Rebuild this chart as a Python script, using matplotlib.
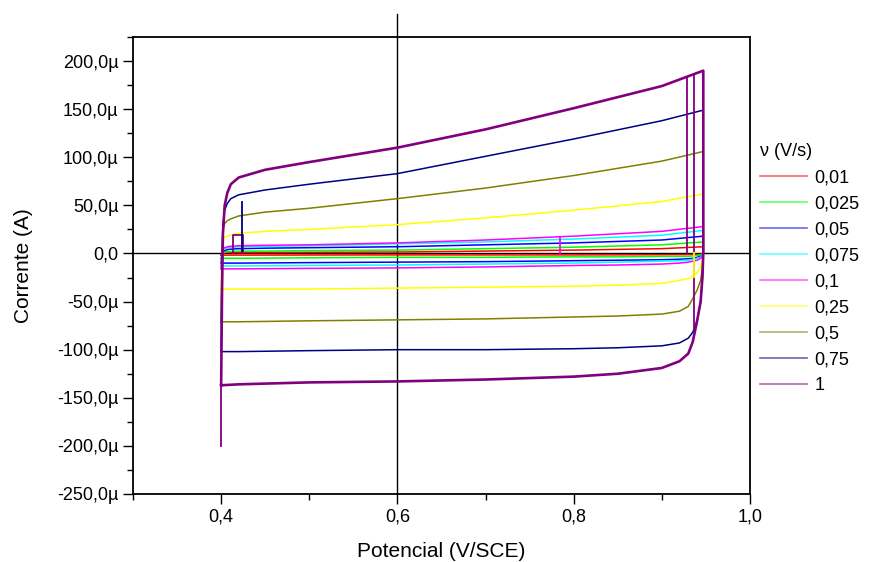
import matplotlib
matplotlib.use("Agg")
import matplotlib.pyplot as plt
from matplotlib.ticker import FuncFormatter, MultipleLocator
from matplotlib.lines import Line2D

plt.rcParams['font.family'] = ['Liberation Sans', 'DejaVu Sans']

# ---------------- data ----------------
rates = ["0,01", "0,025", "0,05", "0,075", "0,1", "0,25", "0,5", "0,75", "1"]
colors = ["#FF0000", "#00FF00", "#0000FF", "#00FFFF", "#FF00FF",
          "#FFFF00", "#808000", "#000080", "#800080"]

# potential grid for anodic (forward) and cathodic (reverse) branches, V
E_fwd = [0.400, 0.401, 0.402, 0.404, 0.407, 0.411, 0.420, 0.450, 0.500,
         0.600, 0.700, 0.800, 0.900, 0.947]
E_rev = [0.947, 0.946, 0.944, 0.940, 0.935, 0.930, 0.920, 0.900, 0.850,
         0.800, 0.700, 0.600, 0.500, 0.420, 0.400]

# currents in µA
I_fwd = {
    "0,01":  [-2, 0, 0.5, 0.5, 1, 1, 1, 1, 1.2, 1.5, 2.5, 3.5, 5, 7],
    "0,025": [-5, 0, 1, 1.5, 2, 2, 2.5, 2.5, 3, 3.5, 5, 6.5, 9, 12],
    "0,05":  [-10, 0, 2, 3, 4, 4.5, 5, 5.5, 6, 7, 9, 11, 14, 18],
    "0,075": [-13, 1, 4, 5, 6, 6.5, 7, 7.5, 8, 10, 12, 15, 19, 24],
    "0,1":   [-16, 2, 5, 6, 7, 7.5, 8, 8.5, 9, 11, 14, 18, 23, 28],
    "0,25":  [-37, 5, 14, 17, 18, 19, 21, 23, 25, 30, 37, 45, 54, 62],
    "0,5":   [-71, 0, 25, 31, 34, 36, 39, 43, 47, 57, 68, 81, 96, 106],
    "0,75":  [-102, -10, 30, 45, 52, 57, 61, 66, 72, 83, 101, 119, 138, 149],
    "1":     [-137, -40, 20, 50, 63, 72, 79, 87, 95, 110, 129, 151, 174, 190],
}
I_rev = {
    "0,01":  [0, -0.5, -0.8, -1, -1, -1.2, -1.2, -1.3, -1.4, -1.5, -1.5, -1.5, -1.6, -1.7, -1.7],
    "0,025": [0, -1, -1.5, -2, -2.5, -3, -3, -3, -3.5, -3.5, -4, -4, -4.5, -5, -5],
    "0,05":  [0, -2, -3, -4, -5, -5.5, -6, -6.5, -7, -7.5, -8.5, -9, -9.5, -10, -10],
    "0,075": [0, -2, -4, -5, -6, -7, -7.5, -8, -9, -10, -11, -12, -12.5, -13, -13],
    "0,1":   [0, -3, -5, -7, -8, -9, -10, -11, -12, -12.5, -14, -15, -15.5, -16, -16],
    "0,25":  [0, -8, -14, -20, -24, -26, -28, -31, -33, -34, -35, -36, -37, -37, -37],
    "0,5":   [0, -15, -28, -38, -47, -55, -60, -63, -65, -66, -68, -69, -70, -71, -71],
    "0,75":  [0, -25, -50, -70, -82, -88, -93, -96, -98, -99, -100, -100, -101, -102, -102],
    "1":     [0, -25, -50, -70, -92, -104, -112, -119, -125, -128, -131, -133, -134, -136, -137],
}

# extra recorded segments (switching artefacts / start of scans), µA
extra_rate = ["1", "1", "1", "1", "0,75", "0,1", "0,25"]
extra_E = [[0.928, 0.928], [0.936, 0.936], [0.400, 0.400],
           [0.4136, 0.4136, 0.425, 0.425], [0.424, 0.424], [0.784, 0.784],
           [0.936, 0.936]]
extra_I = [[182, 0], [186, -80], [-137, -200], [0, 19, 19, 0], [3, 53],
           [17, 0], [0, -24]]

x_ticks = [0.4, 0.6, 0.8, 1.0]
y_ticks = [-250, -200, -150, -100, -50, 0, 50, 100, 150, 200]

# ---------------- figure ----------------
fig = plt.figure(figsize=(8.70, 5.62), dpi=100)
ax = fig.add_axes([133/870, 1-494/562, (750-133)/870, (494-37)/562])

ax.set_xlim(0.3, 1.0)
ax.set_ylim(-250e-6, 225e-6)

# zero axes
ax.axhline(0, color="black", lw=1.0, zorder=1)
ax.plot([0.6, 0.6], [-250e-6, 249e-6], color="black", lw=1.0, zorder=1,
        clip_on=False)

for r, c in zip(rates, colors):
    lw = 1.9 if r == "1" else 1.1
    E = E_fwd + E_rev
    I = [v * 1e-6 for v in I_fwd[r] + I_rev[r]]
    ax.plot(E, I, color=c, lw=lw, zorder=2)

for r, e, i in zip(extra_rate, extra_E, extra_I):
    c = colors[rates.index(r)]
    ax.plot(e, [v * 1e-6 for v in i], color=c, lw=1.3, zorder=2)

def yfmt(v, pos):
    val = v * 1e6
    if abs(val) < 1e-9:
        return "0,0"
    return ("%.1fµ" % val).replace(".", ",")

def xfmt(v, pos):
    return ("%.1f" % v).replace(".", ",")

ax.set_xticks(x_ticks)
ax.set_yticks([v * 1e-6 for v in y_ticks])
ax.xaxis.set_major_formatter(FuncFormatter(xfmt))
ax.yaxis.set_major_formatter(FuncFormatter(yfmt))
ax.xaxis.set_minor_locator(MultipleLocator(0.1))
ax.yaxis.set_minor_locator(MultipleLocator(25e-6))
ax.tick_params(axis="both", which="major", direction="out", length=7,
               width=1, labelsize=13, top=False, right=False)
ax.tick_params(axis="both", which="minor", direction="out", length=4,
               width=1, top=False, right=False)
for s in ax.spines.values():
    s.set_linewidth(1.3)

ax.set_xlabel("Potencial (V/SCE)", fontsize=15, labelpad=12)
ax.set_ylabel("Corrente (A)", fontsize=15, labelpad=17)

handles = [Line2D([0], [0], color=c, lw=1.2, alpha=0.6) for c in colors]
leg = fig.legend(handles, rates, title="ν (V/s)", loc="upper left",
                 bbox_to_anchor=(744/870, 1-127/562), frameon=False,
                 fontsize=13, title_fontsize=13, handlelength=2.6,
                 handletextpad=0.4, labelspacing=0.5, alignment="left")

fig.savefig("out.png", dpi=100)
